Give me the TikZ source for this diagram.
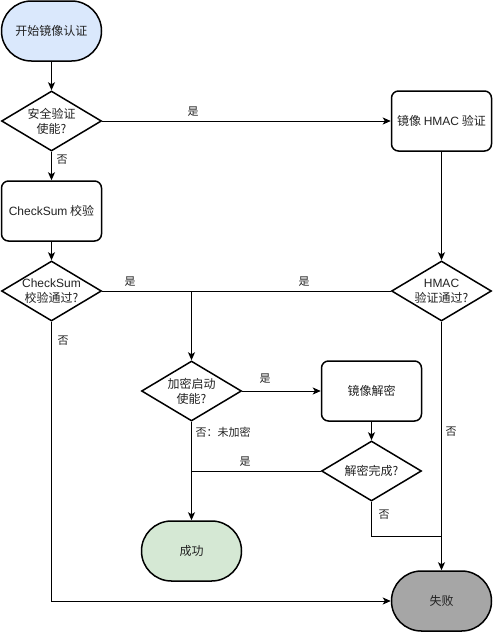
\documentclass[tikz,border=0pt]{standalone}
\usepackage{fontspec}
\setmainfont{Noto Sans CJK SC}
\newfontfamily\en{Liberation Sans}
\usetikzlibrary{shapes.geometric,arrows.meta}
\definecolor{startfill}{HTML}{DAE8FC}
\definecolor{okfill}{HTML}{D5E8D4}
\definecolor{failfill}{HTML}{A6A6A6}
\definecolor{txt}{HTML}{222222}
\begin{document}
\begin{tikzpicture}[x=1pt,y=-1pt,
  base/.style={draw=black,line width=1.5pt,font=\fontsize{12}{15}\selectfont,align=center,text=txt,inner sep=0pt},
  term/.style={base,rectangle,rounded corners=29.9pt,minimum width=100pt,minimum height=60pt},
  proc/.style={base,rectangle,rounded corners=7pt,minimum width=100pt,minimum height=60pt},
  dec/.style={base,diamond,aspect=1.667,minimum width=100pt,minimum height=60pt,inner sep=-8pt},
  arr/.style={draw=black,line width=1pt,-{Stealth[length=8pt,width=7pt,inset=2pt]}},
  ln/.style={draw=black,line width=1pt},
  lbl/.style={font=\fontsize{11}{13}\selectfont,text=txt,inner sep=0pt}]
\useasboundingbox (0,0) rectangle (493,633);
\node[term,fill=startfill] (start) at (51.5,31) {开始镜像认证};
\node[dec] (d1) at (51.5,121) {安全验证\\使能?};
\node[proc] (cs) at (51.5,211) {{\en CheckSum} 校验};
\node[dec] (d2) at (51.5,291) {{\en CheckSum}\\校验通过?};
\node[proc] (hm) at (441.5,121) {镜像 {\en HMAC} 验证};
\node[dec] (hd) at (441.5,291) {{\en HMAC}\\验证通过?};
\node[dec] (enc) at (191.5,391) {加密启动\\使能?};
\node[proc] (dbox) at (371.5,391) {镜像解密};
\node[dec] (dd) at (371.5,471) {解密完成?};
\node[term,fill=okfill] (ok) at (191.5,551) {成功};
\node[term,fill=failfill] (fail) at (441.5,601) {失败};
\coordinate (j1) at (enc.north |- d2.east);
\coordinate (j2) at (hd.south |- 0,536);
\coordinate (j3) at (enc.south |- dd.west);
\draw[arr] (start) -- (d1);
\draw[arr] (d1.east) -- (hm.west);
\node[lbl] (l1) at (193,112) {是};
\draw[arr] (d1.south) -- (cs.north);
\node[lbl] (l2) at (62,160) {否};
\draw[arr] (cs.south) -- (d2.north);
\draw[arr] (hm.south) -- (hd.north);
\draw[arr] (d2.east) -- (j1) -- (enc.north);
\node[lbl] (l3) at (130,282) {是};
\draw[ln] (hd.west) -- (j1);
\node[lbl] (l4) at (304,282) {是};
\draw[arr] (d2.south) |- (fail.west);
\node[lbl] (l5) at (63,341) {否};
\draw[arr] (hd.south) -- (fail.north);
\node[lbl] (l6) at (451,432) {否};
\draw[arr] (enc.east) -- (dbox.west);
\node[lbl] (l7) at (265,379) {是};
\draw[arr] (enc.south) -- (ok.north);
\node[lbl] (l8) at (223,432) {否：未加密};
\draw[arr] (dbox.south) -- (dd.north);
\draw[ln] (dd.west) -- (j3);
\node[lbl] (l9) at (245,462) {是};
\draw[ln] (dd.south) |- (j2);
\node[lbl] (l10) at (384,515) {否};
\end{tikzpicture}
\end{document}
